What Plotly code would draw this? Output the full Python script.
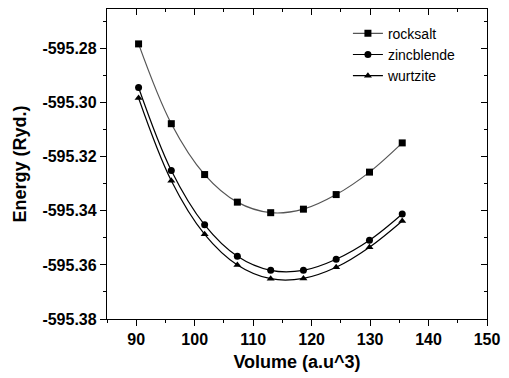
import plotly.graph_objects as go

# Cell volume (a.u^3) and total energy (Ryd.) for each structure
volume = [90.4, 96.0, 101.7, 107.3, 113.0, 118.6, 124.2, 129.9, 135.5]
rocksalt = [-595.2783, -595.3078, -595.3266, -595.3368, -595.3407,
            -595.3394, -595.3340, -595.3257, -595.3149]
zincblende = [-595.2944, -595.3251, -595.3452, -595.3568, -595.3620,
              -595.3620, -595.3579, -595.3509, -595.3412]
wurtzite = [-595.2983, -595.3289, -595.3487, -595.3600, -595.3651,
            -595.3650, -595.3609, -595.3535, -595.3438]

x_ticks = [90, 100, 110, 120, 130, 140, 150]
y_ticks = [-595.38, -595.36, -595.34, -595.32, -595.30, -595.28]
x_labels = ["<b>%d</b>" % v for v in x_ticks]
y_labels = ["<b>%.2f</b>" % v for v in y_ticks]  # plain hyphen minus

FONT = "Liberation Sans, Arial, sans-serif"
x_range = [85, 150]
y_range = [-595.38, -595.2654]

fig = go.Figure()
series = [
    ("rocksalt", rocksalt, "square", "#555555"),
    ("zincblende", zincblende, "circle", "black"),
    ("wurtzite", wurtzite, "triangle-up", "black"),
]
for name, ys, sym, lc in series:
    fig.add_trace(go.Scatter(
        x=volume, y=ys, name=name, mode="lines+markers",
        line=dict(color=lc, width=1.2, shape="spline", smoothing=1.0),
        marker=dict(symbol=sym, size=7, color="black"),
    ))

axis_common = dict(showgrid=False, zeroline=False, linecolor="black",
                   linewidth=1.3, tickcolor="black")

fig.update_layout(
    width=509, height=378,
    margin=dict(l=107, r=14, t=9, b=56),
    plot_bgcolor="white", paper_bgcolor="white",
    font=dict(family=FONT, color="black"),
    xaxis=dict(**axis_common, range=x_range, tickvals=x_ticks, ticktext=x_labels,
               ticks="outside", ticklen=6, tickwidth=1,
               tickfont=dict(size=16, family=FONT),
               minor=dict(dtick=5, ticks="outside", ticklen=3, tickcolor="black"),
               title=dict(text="<b>Volume (a.u^3)</b>", font=dict(size=18), standoff=8)),
    yaxis=dict(**axis_common, range=y_range, tickvals=y_ticks, ticktext=y_labels,
               ticks="outside", ticklen=6, tickwidth=1,
               tickfont=dict(size=16, family=FONT),
               minor=dict(dtick=0.01, tick0=-595.38, ticks="outside", ticklen=3,
                          tickcolor="black"),
               title=dict(text="<b>Energy (Ryd.)</b>", font=dict(size=18), standoff=11)),
    xaxis2=dict(**axis_common, range=x_range, overlaying="x", side="top",
                tickvals=x_ticks, showticklabels=False, ticks="inside", ticklen=6,
                minor=dict(dtick=5, ticks="inside", ticklen=3, tickcolor="black")),
    yaxis2=dict(**axis_common, range=y_range, overlaying="y", side="right",
                tickvals=y_ticks, showticklabels=False, ticks="inside", ticklen=6,
                minor=dict(dtick=0.01, tick0=-595.38, ticks="inside", ticklen=3,
                           tickcolor="black")),
    legend=dict(x=0.634, y=0.972, xanchor="left", yanchor="top",
                bgcolor="rgba(0,0,0,0)", font=dict(size=14, family=FONT),
                tracegroupgap=0, itemwidth=30),
    showlegend=True,
)

# invisible trace to bring the mirrored top/right axes into existence
fig.add_trace(go.Scatter(x=[None], y=[None], xaxis="x2", yaxis="y2",
                         showlegend=False, hoverinfo="skip"))

fig.write_html("out.html")
